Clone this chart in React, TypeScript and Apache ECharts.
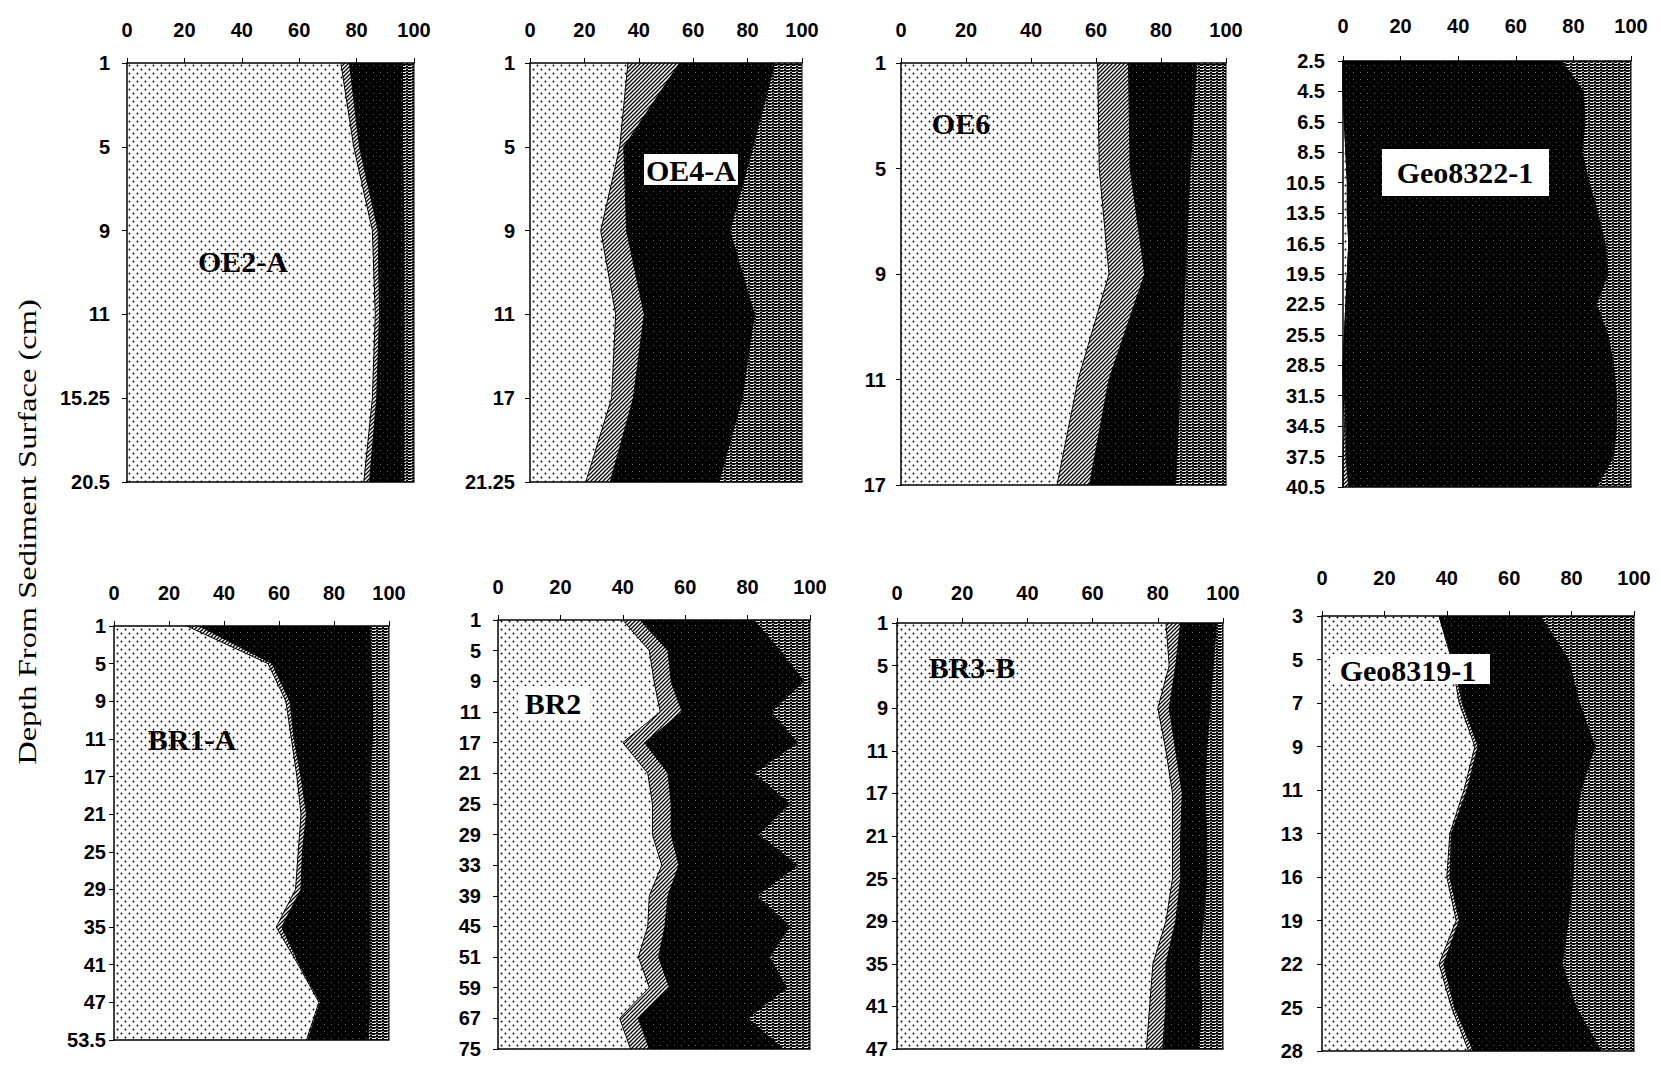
import { useEffect, useRef } from "react";
import * as echarts from "echarts";

// ---- tick labels of the percentage axes ----
const percentTicks = [0, 20, 40, 60, 80, 100];

// ---- OE2-A ----
const oe2aDepths = ["1", "5", "9", "11", "15.25", "20.5"];
const oe2aDotted = [74.5, 79, 85.5, 86.5, 85.5, 82.5];
const oe2aHatched = [3, 2, 2, 1.5, 1.5, 2];
const oe2aDark = [18.5, 15, 9, 8.5, 9.5, 12];
const oe2aStriped = [4, 4, 3.5, 3.5, 3.5, 3.5];

// ---- OE4-A ----
const oe4aDepths = ["1", "5", "9", "11", "17", "21.25"];
const oe4aDotted = [36, 33, 26, 31.5, 30, 20.5];
const oe4aHatched = [19, 1.5, 9.5, 10.5, 8, 9];
const oe4aDark = [35, 47.5, 38, 40.5, 40, 40];
const oe4aStriped = [10, 18, 26.5, 17.5, 22, 30.5];

// ---- OE6 ----
const oe6Depths = ["1", "5", "9", "11", "17"];
const oe6Dotted = [60.5, 61, 64, 54.5, 48];
const oe6Hatched = [9.5, 9.5, 11, 9.5, 10];
const oe6Dark = [21, 18.5, 12.5, 22, 26.5];
const oe6Striped = [9, 11, 12.5, 14, 15.5];

// ---- Geo8322-1 ----
const geo8322Depths = ["2.5", "4.5", "6.5", "8.5", "10.5", "13.5", "16.5", "19.5", "22.5", "25.5", "28.5", "31.5", "34.5", "37.5", "40.5"];
const geo8322Dotted = [0, 0, 0.5, 1, 1.5, 1.5, 2, 1.5, 1, 0.5, 0, 0, 0.5, 0, 0];
const geo8322Hatched = [0, 0, 0, 0, 0, 0, 0, 0, 0, 0, 0, 0.5, 0.5, 1, 2];
const geo8322Dark = [76, 83.5, 83.5, 82, 84, 87, 89, 90.5, 87, 91.5, 94, 94.5, 94, 93, 86];
const geo8322Striped = [24, 16.5, 16, 17, 14.5, 11.5, 9, 8, 12, 8, 6, 5, 5, 6, 12];

// ---- BR1-A ----
const br1aDepths = ["1", "5", "9", "11", "17", "21", "25", "29", "35", "41", "47", "53.5"];
const br1aDotted = [26.5, 56, 62.5, 64.5, 66.5, 68, 67, 66, 59, 67, 74.5, 70];
const br1aHatched = [4.5, 1.5, 1.5, 1, 1.5, 2, 1.5, 2, 2, 0.5, 0.5, 0.5];
const br1aDark = [62, 36, 30, 28.5, 25, 23, 24.5, 25, 32, 25.5, 18, 22];
const br1aStriped = [7, 6.5, 6, 6, 7, 7, 7, 7, 7, 7, 7, 7.5];

// ---- BR2 ----
const br2Depths = ["1", "5", "9", "11", "17", "21", "25", "29", "33", "39", "45", "51", "59", "67", "75"];
const br2Dotted = [40, 48.5, 50, 52, 40, 48, 49.5, 49.5, 52.5, 48.5, 48, 45, 48.5, 39, 42.5];
const br2Hatched = [5.5, 6, 5.5, 7, 7, 6.5, 6, 6, 5.5, 6, 5.5, 6.5, 6.5, 6, 6];
const br2Dark = [36.5, 36, 42.5, 28.5, 49, 27.5, 38, 28, 38, 28.5, 40, 35.5, 37.5, 35, 43];
const br2Striped = [18, 9.5, 2, 12.5, 4, 18, 6.5, 16.5, 4, 17, 6.5, 13, 7.5, 20, 8.5];

// ---- BR3-B ----
const br3bDepths = ["1", "5", "9", "11", "17", "21", "25", "29", "35", "41", "47"];
const br3bDotted = [82.5, 83.5, 80, 82.5, 84.5, 84.5, 84.5, 82.5, 78.5, 77.5, 76.5];
const br3bHatched = [4.5, 2, 3.5, 3, 3, 2.5, 2.5, 3, 4, 5, 5];
const br3bDark = [11, 11.5, 12.5, 9.5, 7, 8, 8, 8.5, 10, 11, 11];
const br3bStriped = [2, 3, 4, 5, 5.5, 5, 5, 6, 7.5, 6.5, 7.5];

// ---- Geo8319-1 ----
const geo8319Depths = ["3", "5", "7", "9", "11", "13", "16", "19", "22", "25", "28"];
const geo8319Dotted = [37.5, 41.5, 44, 49, 45.5, 41, 40, 43, 37.5, 41.5, 47];
const geo8319Hatched = [0, 0.5, 1, 1, 1, 0.5, 1, 1, 1.5, 1, 1.5];
const geo8319Dark = [32.5, 37, 37.5, 37.5, 36.5, 39.5, 39.5, 35, 38, 39, 41];
const geo8319Striped = [30, 21, 17.5, 12.5, 17, 19, 19.5, 21, 23, 18.5, 10.5];

const yTitle = "Depth From Sediment Surface (cm)";

const panels = [
  { name: "OE2-A", depths: oe2aDepths, layers: [oe2aDotted, oe2aHatched, oe2aDark, oe2aStriped] },
  { name: "OE4-A", depths: oe4aDepths, layers: [oe4aDotted, oe4aHatched, oe4aDark, oe4aStriped] },
  { name: "OE6", depths: oe6Depths, layers: [oe6Dotted, oe6Hatched, oe6Dark, oe6Striped] },
  { name: "Geo8322-1", depths: geo8322Depths, layers: [geo8322Dotted, geo8322Hatched, geo8322Dark, geo8322Striped] },
  { name: "BR1-A", depths: br1aDepths, layers: [br1aDotted, br1aHatched, br1aDark, br1aStriped] },
  { name: "BR2", depths: br2Depths, layers: [br2Dotted, br2Hatched, br2Dark, br2Striped] },
  { name: "BR3-B", depths: br3bDepths, layers: [br3bDotted, br3bHatched, br3bDark, br3bStriped] },
  { name: "Geo8319-1", depths: geo8319Depths, layers: [geo8319Dotted, geo8319Hatched, geo8319Dark, geo8319Striped] },
];

// layout (pixels)
const gridBoxes = [
  { left: 127, top: 63, width: 287, height: 419, xMargin: 23, yMargin: 17 },
  { left: 530, top: 63, width: 272, height: 419, xMargin: 23, yMargin: 15 },
  { left: 901, top: 63, width: 325, height: 422, xMargin: 23, yMargin: 15 },
  { left: 1343, top: 61, width: 288, height: 426, xMargin: 25, yMargin: 18 },
  { left: 114, top: 626, width: 275, height: 414, xMargin: 23, yMargin: 8 },
  { left: 498, top: 620, width: 312, height: 429, xMargin: 23, yMargin: 17 },
  { left: 897, top: 623, width: 326, height: 426, xMargin: 20, yMargin: 9 },
  { left: 1322, top: 616, width: 312, height: 435, xMargin: 28, yMargin: 19 },
];

const nameLabels = [
  { x: 243, y: 261, box: null },
  { x: 691, y: 170, box: [644, 154, 94, 31] },
  { x: 961, y: 123, box: null },
  { x: 1465, y: 172, box: [1382, 149, 167, 47] },
  { x: 192, y: 739, box: null },
  { x: 553, y: 703, box: [518, 686, 72, 34] },
  { x: 972, y: 667, box: null },
  { x: 1408, y: 670, box: [1330, 654, 160, 30] },
];

function tile(w: number, h: number, draw: (ctx: CanvasRenderingContext2D) => void) {
  const c = document.createElement("canvas");
  c.width = w;
  c.height = h;
  const ctx = c.getContext("2d") as CanvasRenderingContext2D;
  draw(ctx);
  return { image: c.toDataURL(), repeat: "repeat", imageWidth: w, imageHeight: h } as any;
}

export default function App() {
  const ref = useRef<HTMLDivElement>(null);

  useEffect(() => {
    if (!ref.current) return;
    const chart = echarts.init(ref.current, null, { renderer: "svg" });

    const dotted = tile(8, 8, (ctx) => {
      ctx.fillStyle = "#fff";
      ctx.fillRect(0, 0, 8, 8);
      ctx.fillStyle = "#000";
      ctx.beginPath();
      ctx.arc(1.5, 1.5, 0.95, 0, Math.PI * 2);
      ctx.arc(5.5, 5.5, 0.95, 0, Math.PI * 2);
      ctx.fill();
    });
    const hatched = tile(4, 4, (ctx) => {
      ctx.fillStyle = "#fff";
      ctx.fillRect(0, 0, 4, 4);
      ctx.strokeStyle = "#000";
      ctx.lineWidth = 1.3;
      ctx.beginPath();
      ctx.moveTo(-1, 1); ctx.lineTo(1, -1);
      ctx.moveTo(-1, 5); ctx.lineTo(5, -1);
      ctx.moveTo(3, 5); ctx.lineTo(5, 3);
      ctx.stroke();
    });
    const dark = tile(7, 7, (ctx) => {
      ctx.fillStyle = "#000";
      ctx.fillRect(0, 0, 7, 7);
      ctx.fillStyle = "#6a6a6a";
      ctx.fillRect(2, 2, 1, 1);
      ctx.fillStyle = "#3a3a3a";
      ctx.fillRect(5, 5, 1, 1);
    });
    const striped = tile(6, 3, (ctx) => {
      ctx.fillStyle = "#000";
      ctx.fillRect(0, 0, 6, 3);
      ctx.fillStyle = "#f0f0f0";
      ctx.fillRect(0, 0, 4, 1);
      ctx.fillStyle = "#8a8a8a";
      ctx.fillRect(3, 2, 3, 1);
    });
    const fills = [dotted, hatched, dark, striped];
    const layerNames = ["Dotted", "Hatched", "Dark", "Striped"];

    const axisFont = { color: "#000", fontSize: 20, fontWeight: "bold", fontFamily: "Liberation Sans, Arial, sans-serif" };

    const grid: any[] = [];
    const xAxis: any[] = [];
    const yAxis: any[] = [];
    const series: any[] = [];
    const graphic: any[] = [];

    panels.forEach((p, i) => {
      const b = gridBoxes[i];
      grid.push({ left: b.left, top: b.top, width: b.width, height: b.height, containLabel: false });
      xAxis.push({
        gridIndex: i,
        type: "value",
        position: "top",
        min: percentTicks[0],
        max: percentTicks[percentTicks.length - 1],
        interval: percentTicks[1] - percentTicks[0],
        z: 10,
        axisLine: { show: true, lineStyle: { color: "#000", width: 1.5 } },
        axisTick: { show: true, inside: false, length: 5, lineStyle: { color: "#000", width: 1 } },
        axisLabel: { ...axisFont, margin: b.xMargin },
        splitLine: { show: false },
      });
      xAxis.push({
        gridIndex: i,
        type: "value",
        position: "bottom",
        min: 0,
        max: 100,
        z: 10,
        axisLine: { show: true, onZero: false, lineStyle: { color: "#000", width: 1.5 } },
        axisTick: { show: false },
        axisLabel: { show: false },
        splitLine: { show: false },
      });
      yAxis.push({
        gridIndex: i,
        type: "category",
        inverse: true,
        boundaryGap: false,
        data: p.depths,
        z: 10,
        axisLine: { show: true, onZero: false, lineStyle: { color: "#000", width: 1.5 } },
        axisTick: { show: true, length: 5, lineStyle: { color: "#000", width: 1 } },
        axisLabel: { ...axisFont, interval: 0, margin: b.yMargin },
        splitLine: { show: false },
      });
      p.layers.forEach((vals, k) => {
        series.push({
          type: "line",
          name: layerNames[k],
          xAxisIndex: i * 2,
          yAxisIndex: i,
          stack: "panel" + i,
          data: vals,
          symbol: "none",
          silent: true,
          lineStyle: { color: "#000", width: 1 },
          itemStyle: { color: "#000" },
          areaStyle: { color: fills[k], opacity: 1 },
        });
      });
      const lab = nameLabels[i];
      if (lab.box) {
        graphic.push({
          type: "rect",
          z: 100,
          shape: { x: lab.box[0], y: lab.box[1], width: lab.box[2], height: lab.box[3] },
          style: { fill: "#fff" },
        });
      }
      graphic.push({
        type: "text",
        z: 101,
        x: lab.x,
        y: lab.y,
        style: {
          text: p.name,
          font: 'bold 30px "Liberation Serif", "Times New Roman", serif',
          fill: "#000",
          align: "center",
          verticalAlign: "middle",
        },
      });
    });

    graphic.push({
      type: "text",
      z: 101,
      x: 27,
      y: 532,
      rotation: Math.PI / 2,
      scaleX: 1.25,
      style: {
        text: yTitle,
        font: '26px "Liberation Serif", "Times New Roman", serif',
        fill: "#000",
        align: "center",
        verticalAlign: "middle",
      },
    });

    chart.setOption({
      animation: false,
      backgroundColor: "#fff",
      grid,
      xAxis,
      yAxis,
      series,
      graphic,
    });

    return () => chart.dispose();
  }, []);

  return (
    <div
      ref={ref}
      style={{ position: "absolute", left: 0, top: 0, width: 1661, height: 1070 }}
    />
  );
}
